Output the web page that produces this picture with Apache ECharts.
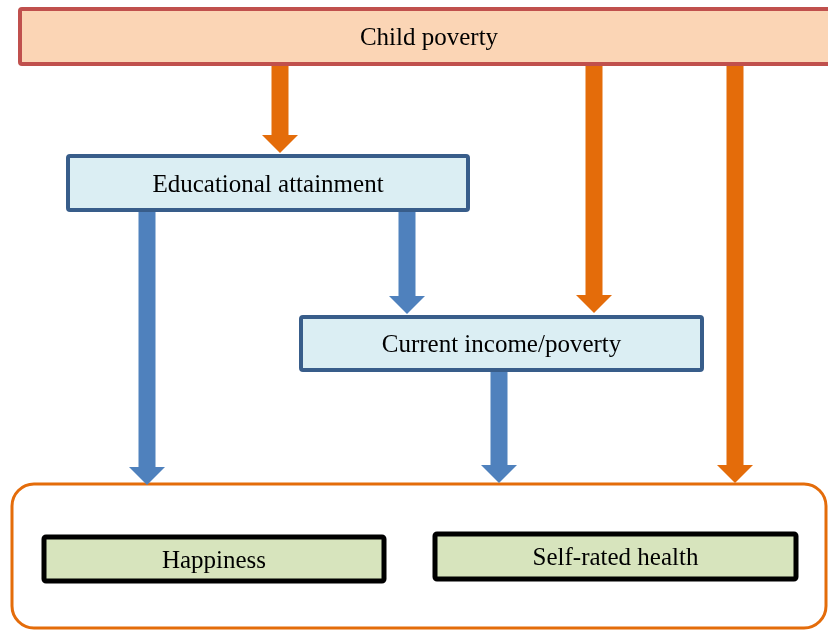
<!DOCTYPE html>
<html>
<head>
<meta charset="utf-8">
<script src="https://cdn.jsdelivr.net/npm/echarts@6/dist/echarts.min.js"></script>
<style>
  html, body { margin: 0; padding: 0; background: #fff; }
  #main { width: 828px; height: 630px; }
</style>
</head>
<body>
<div id="main"></div>
<script>
// 方框（坐标单位 = 画布上的轴值）
const boxLabels = ['Child poverty', 'Educational attainment', 'Current income/poverty', 'Happiness', 'Self-rated health']
const boxKinds = ['source', 'mediator', 'mediator', 'outcome', 'outcome']
const boxLeft = [20, 68, 301, 44, 435]
const boxRight = [838, 468, 702, 384, 796]
const boxTop = [9, 156, 317, 537, 534]
const boxBottom = [64, 210, 370, 581, 579]

// 外框（结果组）
const groupLeft = [12]
const groupRight = [826]
const groupTop = [484]
const groupBottom = [628]

// 箭头
const arrowKinds = ['orange', 'orange', 'orange', 'blue', 'blue', 'blue']
const arrowX = [280, 594, 735, 147, 407, 499]
const arrowFrom = [64, 64, 64, 210, 210, 370]
const arrowTo = [153, 313, 483, 485, 314, 483]

const boxStyles = {
  source: { fill: '#fbd5b5', stroke: '#c0504d', lineWidth: 4 },
  mediator: { fill: '#dbeef3', stroke: '#385d8a', lineWidth: 4 },
  outcome: { fill: '#d7e4bd', stroke: '#000000', lineWidth: 5 }
}
const arrowColors = { orange: '#e46c0a', blue: '#4f81bd' }

const chart = echarts.init(document.getElementById('main'))

const boxData = boxLabels.map((name, i) => [boxLeft[i], boxTop[i], boxRight[i], boxBottom[i], i])
const groupData = groupLeft.map((x, i) => [x, groupTop[i], groupRight[i], groupBottom[i]])
const arrowData = arrowX.map((x, i) => [x, arrowFrom[i], arrowTo[i], i])

const option = {
  animation: false,
  grid: { left: 0, right: 0, top: 0, bottom: 0 },
  xAxis: { type: 'value', min: 0, max: 828, show: false },
  yAxis: { type: 'value', min: 0, max: 630, inverse: true, show: false },
  series: [
    {
      type: 'custom',
      name: 'group',
      data: groupData,
      z: 1,
      renderItem: (params, api) => {
        const p0 = api.coord([api.value(0), api.value(1)])
        const p1 = api.coord([api.value(2), api.value(3)])
        return {
          type: 'rect',
          shape: { x: p0[0], y: p0[1], width: p1[0] - p0[0], height: p1[1] - p0[1], r: 22 },
          style: { fill: '#ffffff', stroke: '#e46c0a', lineWidth: 3 }
        }
      }
    },
    {
      type: 'custom',
      name: 'arrows',
      data: arrowData,
      z: 2,
      renderItem: (params, api) => {
        const idx = api.value(3)
        const top = api.coord([api.value(0), api.value(1)])
        const tip = api.coord([api.value(0), api.value(2)])
        const half = 8.5
        const headHalf = 18
        const headLen = 18
        const cx = tip[0]
        const neck = tip[1] - headLen
        return {
          type: 'polygon',
          shape: {
            points: [
              [cx - half, top[1]], [cx + half, top[1]], [cx + half, neck],
              [cx + headHalf, neck], [cx, tip[1]], [cx - headHalf, neck],
              [cx - half, neck]
            ]
          },
          style: { fill: arrowColors[arrowKinds[idx]] }
        }
      }
    },
    {
      type: 'custom',
      name: 'boxes',
      data: boxData,
      z: 3,
      renderItem: (params, api) => {
        const idx = api.value(4)
        const p0 = api.coord([api.value(0), api.value(1)])
        const p1 = api.coord([api.value(2), api.value(3)])
        const st = boxStyles[boxKinds[idx]]
        return {
          type: 'rect',
          shape: { x: p0[0], y: p0[1], width: p1[0] - p0[0], height: p1[1] - p0[1], r: 2 },
          style: { fill: st.fill, stroke: st.stroke, lineWidth: st.lineWidth },
          textContent: {
            style: {
              text: boxLabels[idx],
              fill: '#000000',
              fontFamily: '"Liberation Serif", "Times New Roman", serif',
              fontSize: 25
            }
          },
          textConfig: { position: 'inside', offset: [0, 2] }
        }
      }
    }
  ]
}

chart.setOption(option)
</script>
</body>
</html>
